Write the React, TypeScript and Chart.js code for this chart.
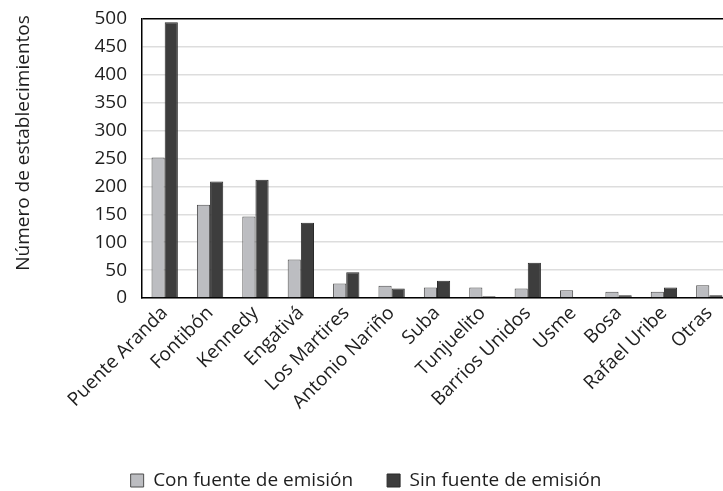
import React, { useEffect, useRef } from "react";
import { Chart, registerables } from "chart.js";

Chart.register(...registerables);

const categories = [
  "Puente Aranda", "Fontibón", "Kennedy", "Engativá", "Los Martires",
  "Antonio Nariño", "Suba", "Tunjuelito", "Barrios Unidos", "Usme",
  "Bosa", "Rafael Uribe", "Otras",
];
const conFuente = [252, 167, 146, 69, 26, 22, 19, 19, 17, 14, 11, 11, 23];
const sinFuente = [494, 209, 212, 135, 46, 17, 31, 3, 63, 0, 5, 19, 5];
const seriesLabels = ["Con fuente de emisión", "Sin fuente de emisión"];
const yTicks = [0, 50, 100, 150, 200, 250, 300, 350, 400, 450, 500];
const yTitle = "Número de establecimientos";

const FONT = "'Open Sans', sans-serif";
const TEXT = "#1e1e1e";

const yTitlePlugin = {
  id: "yTitlePlugin",
  afterDraw(chart: any) {
    const ctx = chart.ctx;
    ctx.save();
    ctx.translate(24, 143);
    ctx.rotate(-Math.PI / 2);
    ctx.font = `19px ${FONT}`;
    ctx.fillStyle = TEXT;
    ctx.textAlign = "center";
    ctx.textBaseline = "middle";
    ctx.fillText(yTitle, 0, 0);
    ctx.restore();
  },
};

export default function App() {
  const ref = useRef<HTMLCanvasElement | null>(null);

  useEffect(() => {
    if (!ref.current) return;
    const chart = new Chart(ref.current, {
      type: "bar",
      data: {
        labels: categories,
        datasets: [
          {
            label: seriesLabels[0],
            data: conFuente,
            backgroundColor: "#bcbdc1",
            borderColor: "#4d4d4d",
            borderWidth: 1,
            barPercentage: 1,
            categoryPercentage: 0.58,
          },
          {
            label: seriesLabels[1],
            data: sinFuente,
            backgroundColor: "#3d3d3d",
            borderColor: "#2a2a2a",
            borderWidth: 1,
            barPercentage: 1,
            categoryPercentage: 0.58,
          },
        ],
      },
      plugins: [yTitlePlugin],
      options: {
        responsive: false,
        animation: false,
        devicePixelRatio: 1,
        layout: { padding: { top: 19, left: 0, right: 0, bottom: 0 } },
        plugins: {
          tooltip: { enabled: false },
          legend: {
            position: "bottom",
            labels: {
              font: { family: FONT, size: 19 },
              color: TEXT,
              boxWidth: 13,
              boxHeight: 13,
              padding: 34,
            },
          },
        },
        scales: {
          x: {
            grid: { display: false, drawTicks: false },
            border: { color: "#000", width: 1.5 },
            ticks: {
              font: { family: FONT, size: 19 },
              color: TEXT,
              maxRotation: 45,
              minRotation: 45,
              autoSkip: false,
              padding: 4,
            },
            afterFit: (s: any) => {
              s.height = 139;
            },
          },
          y: {
            min: 0,
            max: 500,
            afterBuildTicks: (s: any) => {
              s.ticks = yTicks.map((v) => ({ value: v }));
            },
            grid: {
              drawTicks: false,
              color: (ctx: any) => (ctx.tick && ctx.tick.value === 500 ? "#000" : "#dddddd"),
              lineWidth: 1.5,
            },
            border: { color: "#000", width: 1.5 },
            ticks: {
              font: { family: FONT, size: 19 },
              color: TEXT,
              padding: 15,
            },
            afterFit: (s: any) => {
              s.width = 142;
              s.paddingTop = 0;
              s.paddingBottom = 0;
            },
          },
        },
      },
    });
    return () => chart.destroy();
  }, []);

  return (
    <div style={{ position: "absolute", left: 0, top: 0, width: 723, height: 491, overflow: "hidden", background: "#fff" }}>
      <canvas ref={ref} width={732} height={500} style={{ display: "block" }} />
    </div>
  );
}
